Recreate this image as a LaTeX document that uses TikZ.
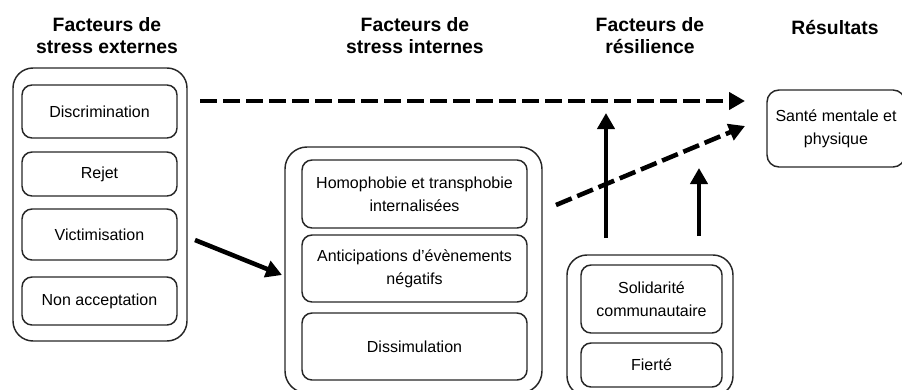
\documentclass[tikz,border=0pt]{standalone}
\usepackage{fontspec}
\setmainfont{Liberation Sans}
\usetikzlibrary{arrows.meta}
\begin{document}
\begin{tikzpicture}[x=0.75pt,y=-0.75pt,
  outerbox/.style={draw=black!85,line width=1.1pt,rounded corners=15pt,inner sep=0pt},
  inbox/.style={draw=black!85,line width=1.1pt,rounded corners=7.5pt,align=center,inner sep=0pt,
     minimum width=#1,font=\fontsize{12}{17.5}\selectfont},
  title/.style={align=center,font=\fontsize{14.5}{16.5}\selectfont\bfseries},
  solidarrow/.style={line width=3.4pt,-{Triangle[length=12pt,width=12.75pt]}},
  dasharrow/.style={line width=3.4pt,dash pattern=on 12.75pt off 4.5pt,-{Triangle[length=12pt,width=12.75pt]}}
]
\useasboundingbox (0,0) rectangle (902,389);

% titles
\node[title] (t1) at (107,36) {Facteurs de\\stress externes};
\node[title] (t2) at (415,36) {Facteurs de\\stress internes};
\node[title] (t3) at (650,36) {Facteurs de\\résilience};
\node[title] (t4) at (835,28) {Résultats};

% external stress
\node[outerbox,minimum width=130.5pt,minimum height=204.75pt] (out1) at (100,204.5) {};
\node[inbox=116.25pt,minimum height=39.75pt] (disc) at (99.5,111.5) {Discrimination};
\node[inbox=116.25pt,minimum height=33pt] (rej) at (99.5,174) {Rejet};
\node[inbox=116.25pt,minimum height=38.25pt] (vic) at (99.5,234.5) {Victimisation};
\node[inbox=116.25pt,minimum height=36pt] (non) at (99.5,301) {Non acceptation};

% internal stress
\node[outerbox,minimum width=192.75pt,minimum height=184.5pt,rounded corners=16.5pt] (out2) at (413.5,270) {};
\node[inbox=168.75pt,minimum height=51pt] (hom) at (414.5,194) {Homophobie et transphobie\\internalisées};
\node[inbox=168.75pt,minimum height=50.25pt] (ant) at (414.5,268.5) {Anticipations d'évènements\\négatifs};
\node[inbox=168.75pt,minimum height=50.25pt] (dis) at (414.5,346.5) {Dissimulation};

% resilience
\node[outerbox,minimum width=124.5pt,minimum height=105.75pt] (out3) at (650,325.5) {};
\node[inbox=105.75pt,minimum height=51pt] (sol) at (651.5,299) {Solidarité\\communautaire};
\node[inbox=105.75pt,minimum height=33pt] (fie) at (651.5,365) {Fierté};

% outcome
\node[inbox=103.5pt,minimum height=57.75pt,rounded corners=9pt] (san) at (836,128.5) {Santé mentale et\\physique};

% connector ends
\coordinate (a1s) at (200,101);
\coordinate (a1e) at (745,101);
\coordinate (a2s) at (556,205);
\coordinate (a2e) at (745,126);
\coordinate (a3s) at (195,240);
\coordinate (a3e) at (282,275);
\coordinate (a4s) at (606,238);
\coordinate (a4e) at (606,113);
\coordinate (a5s) at (699,236);
\coordinate (a5e) at (699,168);

\draw[dasharrow] (a1s) -- (a1e);
\draw[dasharrow] (a2s) -- (a2e);
\draw[solidarrow] (a3s) -- (a3e);
\draw[solidarrow] (a4s) -- (a4e);
\draw[solidarrow] (a5s) -- (a5e);
\end{tikzpicture}
\end{document}
